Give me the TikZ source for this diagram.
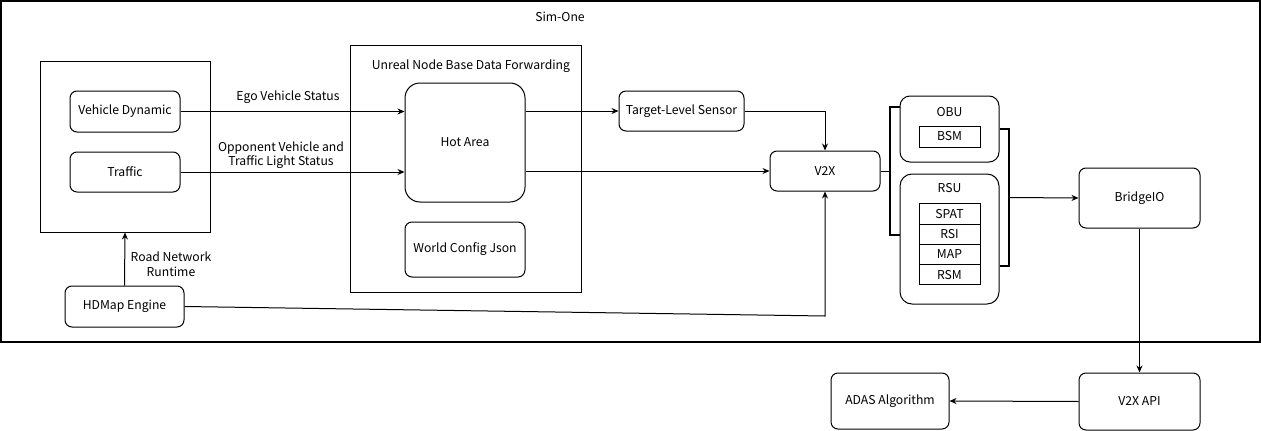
\documentclass[tikz,border=0pt]{standalone}
\usepackage{fontspec}
\setmainfont{Noto Sans CJK SC}
\usetikzlibrary{arrows.meta}
\begin{document}
\begin{tikzpicture}[x=1pt,y=-1pt,
  font=\fontsize{12.2}{14.5}\selectfont,
  box/.style={draw, rounded corners=7pt, line width=1pt, align=center, inner sep=0pt},
  plain/.style={draw, line width=1pt, inner sep=0pt},
  cell/.style={draw, line width=1pt, minimum width=61pt, minimum height=20.2pt, inner sep=0pt},
  arr/.style={-{Stealth[length=7pt,width=6pt]}, line width=1pt},
  brk/.style={line width=1.9pt},
  lbl/.style={align=center, inner sep=0pt}]
\useasboundingbox (0,0) rectangle (1261,431);
% outer frame
\node[plain, line width=1.2pt, minimum width=1259pt, minimum height=341pt] (simone) at (630.5,171.5) {};
\node[lbl] (simonetitle) at (560,17) {Sim-One};
% left group
\node[plain, minimum width=170pt, minimum height=171pt] (left) at (125,146.5) {};
\node[box, minimum width=110pt, minimum height=41pt] (vd) at (125,111.5) {Vehicle Dynamic};
\node[box, minimum width=110pt, minimum height=40pt] (tr) at (125,172) {Traffic};
\node[box, minimum width=119pt, minimum height=41pt] (hd) at (124.5,306.5) {HDMap Engine};
\node[lbl] (rnr) at (171,264) {Road Network\\Runtime};
% unreal group
\node[plain, minimum width=231pt, minimum height=247pt] (unreal) at (465.5,168.5) {};
\node[lbl] (unrealtitle) at (471,66) {Unreal Node Base Data Forwarding};
\node[box, rounded corners=15pt, minimum width=120pt, minimum height=119pt] (hot) at (465,142.5) {Hot Area};
\node[box, minimum width=120pt, minimum height=55pt] (wcj) at (465,249.5) {World Config Json};
% right side
\node[box, minimum width=125pt, minimum height=40pt] (tls) at (681.5,111) {Target-Level Sensor};
\node[box, minimum width=110pt, minimum height=40pt] (v2x) at (825,171) {V2X};
\node[box, rounded corners=10pt, minimum width=99pt, minimum height=66pt] (obu) at (949.5,129) {};
\node[lbl] (obut) at (949.5,112) {OBU};
\node[cell, minimum height=21pt] (bsm) at (949.5,136.5) {BSM};
\node[box, rounded corners=12pt, minimum width=99pt, minimum height=130pt] (rsu) at (949.5,239) {};
\node[lbl] (rsut) at (949.5,188) {RSU};
\node[cell] (spat) at (949.5,214) {SPAT};
\node[cell] (rsi) at (949.5,234.2) {RSI};
\node[cell] (map) at (949.5,254.4) {MAP};
\node[cell] (rsm) at (949.5,274.6) {RSM};
\node[box, minimum width=121pt, minimum height=60pt] (bridge) at (1139.5,198) {BridgeIO};
\node[box, minimum width=121pt, minimum height=57pt] (api) at (1139.5,401.5) {V2X API};
\node[box, minimum width=118pt, minimum height=56pt] (adas) at (890,401) {ADAS Algorithm};
% connectors
\draw[arr] (vd.east) -- (vd.east -| hot.west);
\node[lbl] (egol) at (288,97) {Ego Vehicle Status};
\draw[arr] (tr.east) -- (tr.east -| hot.west);
\node[lbl] (oppl) at (281,155) {Opponent Vehicle and\\Traffic Light Status};
\draw[arr] (hd.north) -- (left.south);
\draw[arr] (hot.east |- tls.west) -- (tls.west);
\draw[arr] (hot.east |- v2x.west) -- (v2x.west);
\draw[arr] (tls.east) -| (v2x.north);
\coordinate (hdturn) at (825,316);
\draw[arr] (hd.east) -- (hdturn) -- (v2x.south);
% brackets
\coordinate (bl) at (890,171);
\coordinate (blt) at (890,107);
\coordinate (blb) at (890,235);
\coordinate (brt) at (1009,129);
\coordinate (brb) at (1009,266);
\coordinate (brm) at (1009,197.5);
\draw[line width=1pt] (v2x.east) -- (bl);
\draw[brk] (obu.west |- blt) -- (blt) -- (blb) -- (rsu.west |- blb);
\draw[brk] (obu.east |- brt) -- (brt) -- (brb) -- (rsu.east |- brb);
\draw[arr] (brm) -- (bridge.west);
\draw[arr] (bridge.south) -- (api.north);
\draw[arr] (api.west) -- (adas.east);
\end{tikzpicture}
\end{document}
